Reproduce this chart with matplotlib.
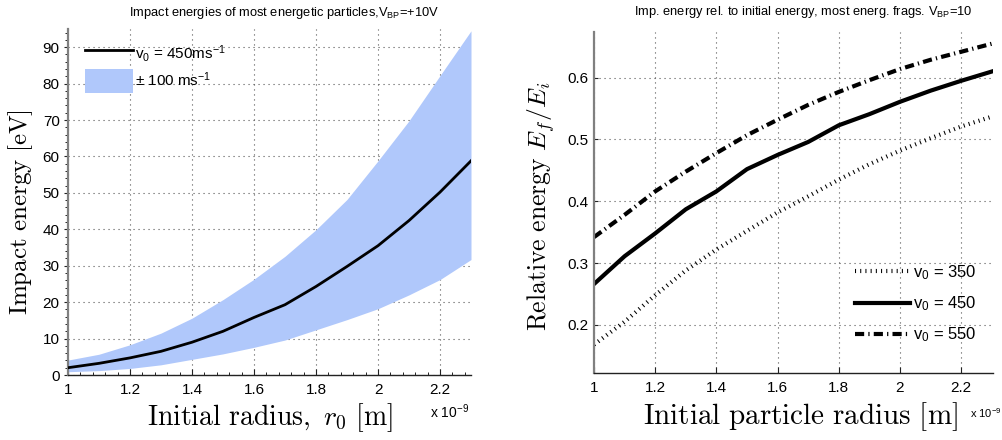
import matplotlib
matplotlib.use('Agg')
import matplotlib.pyplot as plt
from matplotlib.ticker import AutoMinorLocator, FixedLocator

plt.rcParams['font.family'] = ['Liberation Sans', 'DejaVu Sans']
plt.rcParams['mathtext.fontset'] = 'custom'
plt.rcParams['mathtext.rm'] = 'Liberation Sans'
plt.rcParams['mathtext.it'] = 'Liberation Sans:italic'
plt.rcParams['mathtext.bf'] = 'Liberation Sans:bold'
plt.rcParams['mathtext.sf'] = 'Liberation Sans'

# Initial particle radius, in units of 1e-9 m
radius = [1.0, 1.1, 1.2, 1.3, 1.4, 1.5, 1.6, 1.7, 1.8, 1.9, 2.0, 2.1, 2.2, 2.3]

# Impact energy [eV] of the most energetic particles
impact_450 = [2.0, 3.2, 4.7, 6.5, 9.0, 12.0, 15.8, 19.3, 24.3, 29.8, 35.5, 42.4, 50.2, 58.8]
impact_550 = [4.1, 5.7, 8.3, 11.5, 15.6, 20.7, 26.3, 32.6, 39.9, 48.2, 58.8, 69.8, 82.2, 94.5]
impact_350 = [0.9, 1.2, 1.8, 2.8, 4.3, 5.8, 7.6, 9.6, 12.4, 15.2, 18.2, 22.0, 26.2, 31.7]

# Final energy relative to initial energy
rel_350 = [0.168, 0.205, 0.248, 0.288, 0.322, 0.352, 0.382, 0.408, 0.435, 0.460, 0.482, 0.502, 0.521, 0.537]
rel_450 = [0.266, 0.311, 0.348, 0.387, 0.416, 0.452, 0.475, 0.496, 0.523, 0.541, 0.561, 0.579, 0.595, 0.610]
rel_550 = [0.342, 0.378, 0.416, 0.448, 0.478, 0.507, 0.532, 0.556, 0.577, 0.596, 0.614, 0.629, 0.642, 0.655]

x_ticks = [1.0, 1.2, 1.4, 1.6, 1.8, 2.0, 2.2]
x_ticklabels = ['1', '1.2', '1.4', '1.6', '1.8', '2', '2.2']
left_yticks = [0, 10, 20, 30, 40, 50, 60, 70, 80, 90]
right_yticks = [0.2, 0.3, 0.4, 0.5, 0.6]

W, H = 1002, 440
fig = plt.figure(figsize=(W / 100, H / 100), dpi=100)


def px_axes(x0, y0, x1, y1):
    return fig.add_axes([x0 / W, 1 - y1 / H, (x1 - x0) / W, (y1 - y0) / H])


grid_kw = dict(linestyle=(0, (1, 3.5)), linewidth=0.8, color='#555555')
band_color = '#b0c8fb'


def style_axes(ax):
    for s in ('top', 'right'):
        ax.spines[s].set_visible(False)
    ax.spines['left'].set_color('#808080')
    ax.spines['left'].set_linewidth(1.6)
    ax.spines['bottom'].set_color('#222222')
    ax.spines['bottom'].set_linewidth(1.0)
    ax.set_axisbelow(True)
    ax.grid(True, which='major', **grid_kw)
    ax.tick_params(labelsize=11, colors='#222222', labelcolor='black')


# ---------------- left panel ----------------
ax1 = px_axes(68, 29, 471, 375)
style_axes(ax1)
band = ax1.fill_between(radius, impact_350, impact_550, color=band_color, linewidth=0,
                        zorder=2)
line, = ax1.plot(radius, impact_450, color='black', linewidth=2.0, zorder=3)
ax1.set_xlim(1.0, 2.3)
ax1.set_ylim(0, 95)
ax1.xaxis.set_major_locator(FixedLocator(x_ticks))
ax1.set_xticklabels(x_ticklabels)
ax1.set_yticks(left_yticks)
ax1.xaxis.set_minor_locator(AutoMinorLocator(5))
ax1.yaxis.set_minor_locator(AutoMinorLocator(5))
ax1.tick_params(axis='x', which='major', direction='in', length=4, pad=6)
ax1.tick_params(axis='x', which='minor', direction='in', length=2)
ax1.tick_params(axis='y', which='major', direction='out', length=3, pad=3)
ax1.tick_params(axis='y', which='minor', direction='out', length=2)

ax1.set_xlabel(r'$\mathrm{Initial\ radius,}\ r_0\ \mathrm{[m]}$',
               fontsize=20, math_fontfamily='cm')
ax1.xaxis.set_label_coords(0.5, -0.075)
ax1.set_ylabel(r'$\mathrm{Impact\ energy\ [eV]}$', fontsize=18, math_fontfamily='cm')
ax1.yaxis.set_label_coords(-0.082, 0.47)
fig.text(430 / W, 1 - 418 / H, r'x 10$^{-9}$', fontsize=10, ha='left', va='baseline')
fig.text(284 / W, 1 - 16 / H,
         r'Impact energies of most energetic particles,V$_{\mathrm{BP}}$=+10V',
         fontsize=9.3, ha='center', va='baseline')

ax1.legend([line, band], [r'v$_0$ = 450ms$^{-1}$', r'$\pm$ 100 ms$^{-1}$'],
           loc='upper left', bbox_to_anchor=(0.02, 0.99), frameon=False,
           fontsize=11, handlelength=3.1, handleheight=2.0,
           handletextpad=0.15, labelspacing=0.25, borderaxespad=0.2)

# ---------------- right panel ----------------
ax2 = px_axes(594, 32, 993, 373)
style_axes(ax2)
ax2.plot(radius, rel_350, color='black', linewidth=3.0,
         dashes=(0.25, 1.0), dash_capstyle='butt', label=r'v$_0$ = 350')
ax2.plot(radius, rel_450, color='black', linewidth=3.0, label=r'v$_0$ = 450')
ax2.plot(radius, rel_550, color='black', linewidth=3.0,
         dashes=(2.2, 1.0, 0.3, 1.0), dash_capstyle='butt', label=r'v$_0$ = 550')
ax2.set_xlim(1.0, 2.304)
ax2.set_ylim(0.122, 0.674)
ax2.xaxis.set_major_locator(FixedLocator(x_ticks))
ax2.set_xticklabels(x_ticklabels)
ax2.set_yticks(right_yticks)
ax2.tick_params(axis='x', which='major', direction='in', length=4, pad=6)
ax2.tick_params(axis='y', which='major', direction='in', length=3, pad=4)

ax2.set_xlabel(r'$\mathrm{Initial\ particle\ radius\ [m]}$', fontsize=21, math_fontfamily='cm')
ax2.xaxis.set_label_coords((800 - 594) / 399, -0.08)
ax2.set_ylabel(r'$\mathrm{Relative\ energy}\ E_f/E_i$', fontsize=18.5, math_fontfamily='cm')
ax2.yaxis.set_label_coords(-0.092, 0.49)
fig.text(970 / W, 1 - 418 / H, r'x 10$^{-9}$', fontsize=8, ha='left', va='baseline')
fig.text(803 / W, 1 - 15 / H,
         r'Imp. energy rel. to initial energy, most energ. frags. V$_{\mathrm{BP}}$=10',
         fontsize=9.3, ha='center', va='baseline')

ax2.legend(loc='lower right', bbox_to_anchor=(0.995, 0.04), frameon=False,
           fontsize=12, handlelength=3.3, handletextpad=0.15, labelspacing=0.75)

fig.savefig('out.png', dpi=100)
